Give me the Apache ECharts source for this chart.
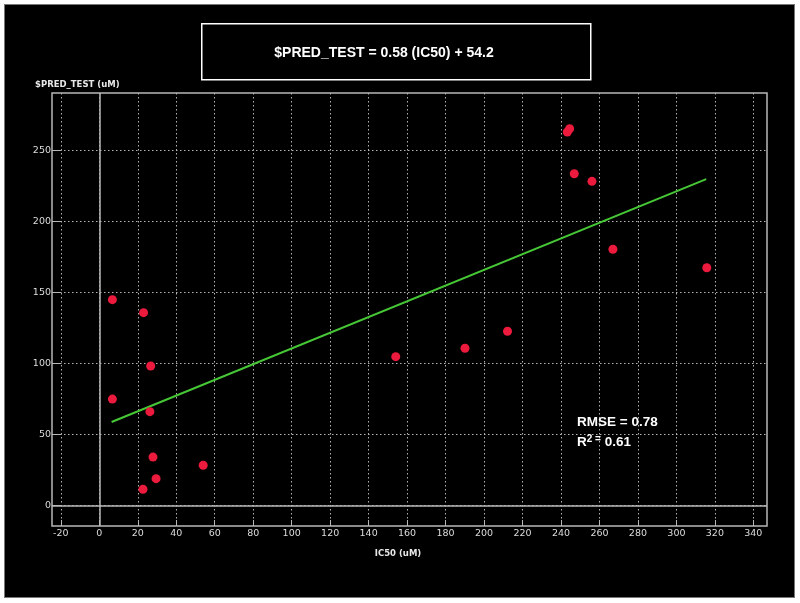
<!DOCTYPE html>
<html><head><meta charset="utf-8">
<script src="https://cdn.jsdelivr.net/npm/echarts@6/dist/echarts.min.js"></script>
<style>
html,body{margin:0;padding:0;background:#fff;}
#wrap{position:relative;width:800px;height:603px;background:#fff;overflow:hidden;}
#bg{position:absolute;left:5px;top:5px;width:789px;height:592px;background:#000;box-shadow:0 0 0 1px #777;}
#chart{position:absolute;left:0;top:0;width:800px;height:603px;}
</style></head><body>
<div id="wrap"><div id="bg"></div><div id="chart"></div></div>
<script>
const pointsX = [6.8, 23.0, 26.7, 6.8, 26.3, 27.9, 54.0, 29.5, 22.7, 154.1, 190.1, 212.2, 243.3, 244.5, 246.9, 256.1, 267.0, 315.8];
const pointsY = [145.0, 135.8, 98.2, 74.9, 66.0, 34.0, 28.2, 18.8, 11.3, 104.8, 110.7, 122.7, 263.2, 265.5, 233.8, 228.4, 180.5, 167.5];
const fitX = [6.4, 315.5];
const fitY = [58.7, 230.0];
const xTicks = [-20, 0, 20, 40, 60, 80, 100, 120, 140, 160, 180, 200, 220, 240, 260, 280, 300, 320, 340];
const yTicks = [0, 50, 100, 150, 200, 250];
const titleText = '$PRED_TEST = 0.58 (IC50) + 54.2';
const xName = 'IC50 (uM)';
const yName = '$PRED_TEST (uM)';
const rmseText = 'RMSE = 0.78';
const r2Value = '0.61';

const scatterData = pointsX.map((x, i) => [x, pointsY[i]]);
const fitData = fitX.map((x, i) => [x, fitY[i]]);

const gridLine = {show: true, lineStyle: {color: '#b4b4b4', width: 1, type: [1.5, 2.5]}};
const labelStyle = {color: '#dcdcdc', fontFamily: 'DejaVu Sans', fontSize: 9.5};

const chart = echarts.init(document.getElementById('chart'), null, {renderer: 'canvas'});
chart.setOption({
  backgroundColor: 'transparent',
  animation: false,
  grid: {left: 52, right: 33, top: 93, bottom: 77, show: true, borderColor: '#b8b8b8', borderWidth: 1.5, backgroundColor: 'transparent', outerBoundsMode: 'none'},
  xAxis: {
    type: 'value', min: -24.6, max: 347.1,
    axisLine: {show: false, onZero: false},
    axisTick: {show: true, inside: true, length: 6, lineStyle: {color: '#b8b8b8'}, customValues: xTicks},
    axisLabel: Object.assign({margin: 3, customValues: xTicks}, labelStyle),
    splitLine: gridLine
  },
  yAxis: {
    type: 'value', min: -14.6, max: 290.7,
    axisLine: {show: false, onZero: false},
    axisTick: {show: true, inside: true, length: 8, lineStyle: {color: '#b8b8b8'}, customValues: yTicks},
    axisLabel: Object.assign({margin: 1, customValues: yTicks}, labelStyle),
    splitLine: gridLine
  },
  graphic: [
    {type: 'rect', left: 201, top: 23, shape: {width: 389, height: 56}, style: {fill: 'transparent', stroke: '#ffffff', lineWidth: 1.5}, z: 10},
    {type: 'text', x: 384, y: 53, style: {text: titleText, fill: '#ffffff', font: 'bold 14px "Liberation Sans", Arial, sans-serif', align: 'center', verticalAlign: 'middle'}, z: 10},
    {type: 'text', x: 35, y: 85, style: {text: yName, fill: '#e8e8e8', font: 'bold 8.5px "DejaVu Sans", sans-serif', align: 'left', verticalAlign: 'middle'}, z: 10},
    {type: 'text', x: 398, y: 554, style: {text: xName, fill: '#e8e8e8', font: 'bold 8.5px "DejaVu Sans", sans-serif', align: 'center', verticalAlign: 'middle'}, z: 10},
    {type: 'text', x: 577, y: 422, style: {text: rmseText, fill: '#ffffff', font: 'bold 13.5px "Liberation Sans", Arial, sans-serif', align: 'left', verticalAlign: 'middle'}, z: 10},
    {type: 'text', x: 577, y: 442, style: {
      text: '{r|R}{s|2 =}{r| ' + r2Value + '}',
      align: 'left', verticalAlign: 'middle',
      rich: {
        r: {fill: '#ffffff', fontFamily: '"Liberation Sans", Arial, sans-serif', fontWeight: 'bold', fontSize: 13.5, lineHeight: 16},
        s: {fill: '#ffffff', fontFamily: '"Liberation Sans", Arial, sans-serif', fontWeight: 'bold', fontSize: 10, lineHeight: 16, verticalAlign: 'top', padding: [0, 0, 6, 0]}
      }
    }, z: 10}
  ],
  series: [
    {
      type: 'line', data: fitData, showSymbol: false, symbol: 'none', silent: true,
      lineStyle: {color: '#46c836', width: 2}, z: 3
    },
    {
      type: 'scatter', data: scatterData, symbolSize: 9, clip: false,
      itemStyle: {color: '#ec1a3c', opacity: 1}, z: 4,
      markLine: {
        silent: true, symbol: 'none', label: {show: false},
        lineStyle: {color: '#b8b8b8', width: 1.5, type: 'solid'},
        data: [{xAxis: 0}, {yAxis: 0}],
        z: 1
      }
    }
  ]
});
</script></body></html>
